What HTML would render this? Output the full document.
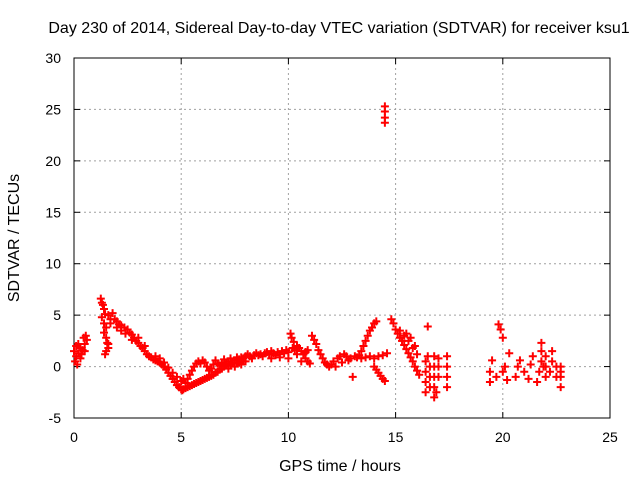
<!DOCTYPE html>
<html><head><meta charset="utf-8"><style>
body{margin:0;background:#fff}
svg text{font-family:"Liberation Sans",sans-serif;fill:#000}
</style></head><body>
<svg id="chart" width="640" height="480" xmlns="http://www.w3.org/2000/svg">
<text x="339" y="33" text-anchor="middle" style="font-size:16px">Day 230 of 2014, Sidereal Day-to-day VTEC variation (SDTVAR) for receiver ksu1</text>
<g id="grid"></g>
<g id="axes"></g>
<g id="pts"></g>
<text x="340" y="471" text-anchor="middle" style="font-size:16px">GPS time / hours</text>
<text transform="translate(19,238) rotate(-90)" text-anchor="middle" style="font-size:16px">SDTVAR / TECUs</text>
</svg>
<script>
const xTicks=[0,5,10,15,20,25];
const yTicks=[-5,0,5,10,15,20,25,30];
const segStart=[[0,1.5],[0.05,0.5],[0.1,2],[0.1,1],[0.15,0.2],[0.2,1.3],[0.2,2.2],[0.3,1.8],[0.3,0.8],[0.35,1.2],[0.4,1.6],[0.45,2.8],[0.5,2.2],[0.55,3],[0.6,2.6],[0.5,1.5]];
const segMorning=[[1.25,6.6],[1.3,6.2],[1.35,6],[1.4,5.6],[1.45,5.1],[1.3,4.8],[1.4,4.2],[1.5,3.8],[1.4,3.3],[1.5,2.8],[1.55,2.3],[1.6,1.8],[1.5,1.5],[1.45,1.2],[1.6,2.2],[1.7,4.2],[1.6,5],[1.8,5.2],[1.7,4.6],
[1.9,4.6],[2,4.4],[2,3.8],[2.1,4.1],[2.2,4],[2.2,3.5],[2.35,3.8],[2.4,3.2],[2.5,3.6],[2.6,3.3],[2.7,3.1],[2.7,2.6],[2.8,2.8],[2.9,2.5],[3,2.3],[3,2.8],[3.1,2],[3.2,1.8],[3.3,1.5],[3.3,2],[3.4,1.2],[3.5,1],[3.6,0.9],[3.7,0.7],[3.8,0.6],[3.8,1],[3.9,0.5],[4,0.4],[4,0.8],[4.1,0.2],[4.2,0],[4.2,0.4],[4.3,-0.3],[4.4,-0.6],[4.4,-0.1],[4.5,-0.9],[4.6,-1.2],[4.6,-0.6],[4.7,-1.5],[4.8,-1.8],[4.8,-1],[4.9,-2],[5,-2.2],[5,-1.4],[5.05,-2.3],[5.1,-2.2],[5.1,-1.2],[5.2,-2.1],[5.2,-1.6],[5.3,-2],[5.4,-1.9],[5.5,-1.8],[5.6,-1.7],[5.7,-1.6],[5.8,-1.5],[5.9,-1.4],[6,-1.3],[6.1,-1.2],[6.2,-1.1],[6.3,-1],[6.4,-0.9],[6.5,-0.8],[6.6,-0.6],[6.7,-0.5],[6.8,-0.3],[6.9,-0.2],[7,0],[7.1,0.1],[7.2,-0.2],[7.3,0.2],[7.4,0.3],[7.5,0],[7.6,0.4],[7.7,0.4],[7.8,0.2],[7.9,0.5],[8,0.5]];
const segUpper=[[5.3,-1.2],[5.4,-0.8],[5.5,-0.4],[5.6,0],[5.7,0.3],[5.8,0.5],[5.9,0.3],[6,0.6],[6.1,0.4],[6.2,0],[6.3,-0.4],[6.4,-0.2],[6.5,0.2],[6.6,0.6],[6.7,0.3],[6.8,0.1],[6.9,0.4],[7,0.7],[7.1,0.3],[7.2,0.5],[7.3,0.8],[7.4,0.4],[7.5,0.6],[7.6,0.9],[7.7,0.7],[7.8,0.9],[7.9,0.8],[8,1],[8.1,1.2],[8.2,1],[8.3,0.8],[8.4,1.1],[8.5,1.3],[8.6,1.1],[8.7,1.2],[8.8,1],[8.9,1.3],[9,1.4],[9.1,1.2],[9.2,1.5],[9.3,1.3],[9.4,1.1],[9.5,1.4],[9.6,1.2],[9.7,1.5],[9.8,1.3],[9.9,1.6],[10,1.4],[10.1,3.2],[10.15,2.8],[10.2,1.8],[10.25,2.4],[10.3,1.6],[10.4,2],[10.5,1.8],[10.6,1.5],[10.7,1.2],[10.8,0.8],[10.9,0.5],[11,0.3],[9.2,0.8],[9.6,0.9],[10,0.8],[10.4,1.2],[10.8,1.4]];
const segMid=[[10.6,0.5],[10.7,1.2],[10.8,1.4],[10.9,1.6],[11.1,3],[11.2,2.6],[11.3,2.2],[11.4,1.6],[11.5,1.2],[11.6,0.8],[11.7,0.4],[11.8,0.2],[11.9,0],[12,0.2],[12.1,0.5],[12.2,0],[12.3,0.8],[12.4,1],[12.5,0.4],[12.6,1.2],[12.7,1],[12.8,0.6],[12.9,0.8],[13,-1],[13.1,1],[13.2,0.9],[13.3,1.1],
[13.4,1.5],[13.5,2],[13.6,2.5],[13.7,3],[13.8,3.5],[13.9,3.8],[14,4.2],[14.1,4.4],[13.4,0.8],[13.6,0.9],[13.8,1],[14,0.8],[14.2,1],[14.4,1.1],[14.6,1.3],[14,0],[14.1,-0.3],[14.2,-0.6],[14.3,-0.9],[14.4,-1.2],[14.5,-1.4]];
const segAfternoon=[[14.8,4.6],[14.9,4.2],[15,3.6],[15.1,3.2],[15.2,2.8],[15.3,2.5],[15.4,2.1],[15.5,1.7],[15.6,1.3],[15.7,0.9],[15.8,0.5],[15.9,0],[16,-0.4],[16.1,-0.8],[15.2,3.5],[15.4,3],[15.6,2.5],[15.8,1.8],[16,1.2],[15.5,3.2],[15.7,2.8],[15.9,2]];
const segOutlier=[[14.5,25.3],[14.5,24.8],[14.5,24.2],[14.5,23.7]];
const segLate=[[16.5,3.9],[16.4,-2.5],[16.4,-1.5],[16.4,-0.5],[16.4,0.5],[16.5,1],[16.6,-2],[16.6,-1],[16.6,0],[16.8,-3],[16.8,-2],[16.8,-1],[16.8,0],[16.8,1],[16.9,-2.5],[17,-1],[17,0],[17,0.8],[17.4,-2],[17.4,-1],[17.4,0],[17.4,1],
[19.4,-1.5],[19.4,-0.5],[19.5,0.6],[19.7,-1],[19.8,4.1],[19.9,3.6],[20,2.8],[20,-0.5],[20.1,0],[20.2,-1.3],[20.3,1.3],[20.6,-1],[20.7,0],[20.8,0.6],[21,-0.5],[21.2,-1.2],[21.3,0.2],[21.4,1],[21.6,-1.5],[21.7,-0.5],[21.8,0.5],[21.8,1.5],[21.8,2.3],[21.9,0],[22,-1],[22,0],[22,1],[22.2,-0.5],[22.3,0.5],[22.3,1.5],[22.5,-1],[22.5,0],[22.7,-2],[22.7,-1],[22.7,0],[22.7,-0.5]];
const series=[segStart,segMorning,segUpper,segMid,segAfternoon,segOutlier,segLate];
const L=74,R=610,T=58,B=418,X0=0,X1=25,Y0=-5,Y1=30;
const sx=v=>L+(v-X0)/(X1-X0)*(R-L);
const sy=v=>B-(v-Y0)/(Y1-Y0)*(B-T);
const NS="http://www.w3.org/2000/svg";
function mk(tag,at,parent){const e=document.createElementNS(NS,tag);for(const k in at)e.setAttribute(k,at[k]);parent.appendChild(e);return e;}
const grid=document.getElementById('grid'),axes=document.getElementById('axes'),pts=document.getElementById('pts');
xTicks.forEach(t=>{
  if(t>X0&&t<X1){const g=mk('line',{x1:sx(t),x2:sx(t),y1:T,y2:B,stroke:'#a0a0a0','stroke-dasharray':'2,3'},grid);
  
  }
  const tk=mk('line',{x1:sx(t),x2:sx(t),y1:B,y2:B-6,stroke:'#000'},axes);
  
  
  const tk2=mk('line',{x1:sx(t),x2:sx(t),y1:T,y2:T+6,stroke:'#000'},axes);
  
  
  const tx=mk('text',{x:sx(t),y:B+24,'text-anchor':'middle',style:'font-size:14px'},axes);tx.textContent=t;
  
  
});
yTicks.forEach(t=>{
  if(t>Y0&&t<Y1){const g=mk('line',{x1:L,x2:R,y1:sy(t),y2:sy(t),stroke:'#a0a0a0','stroke-dasharray':'2,3'},grid);
  
  }
  const tk=mk('line',{x1:L,x2:L+6,y1:sy(t),y2:sy(t),stroke:'#000'},axes);
  
  
  const tk2=mk('line',{x1:R,x2:R-6,y1:sy(t),y2:sy(t),stroke:'#000'},axes);
  
  
  const tx=mk('text',{x:L-13,y:sy(t)+5,'text-anchor':'end',style:'font-size:14px'},axes);tx.textContent=t;
  
  
});
const box=mk('rect',{x:L,y:T,width:R-L,height:B-T,fill:'none',stroke:'#000'},axes);


series.forEach(seg=>seg.forEach(([h,v])=>{
  const x=sx(h),y=sy(v);
  const p=mk('path',{d:`M${x-4},${y}H${x+4}M${x},${y-4}V${y+4}`,stroke:'#ff0000','stroke-width':2,fill:'none'},pts);
  
  
}));
</script>
</body></html>
